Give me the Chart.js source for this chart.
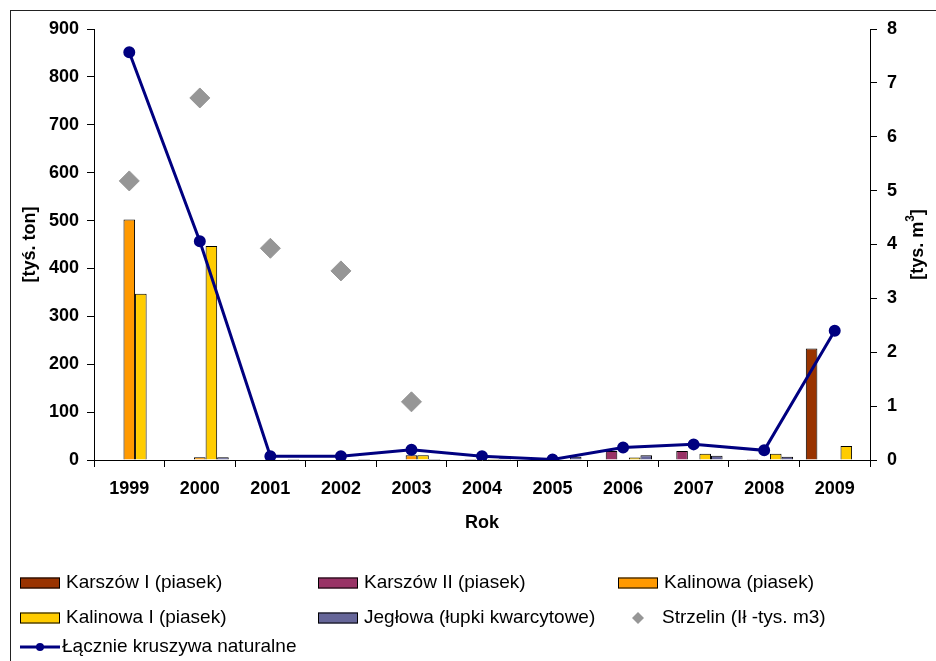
<!DOCTYPE html>
<html><head><meta charset="utf-8">
<script src="https://cdn.jsdelivr.net/npm/chart.js@4.4.0/dist/chart.umd.min.js"></script>
<style>html,body{margin:0;padding:0;background:#fff;}#wrap{width:936px;height:661px;position:relative;}</style>
</head><body><div id="wrap"><canvas id="c" width="936" height="661"></canvas></div>
<script>
const years = ['1999','2000','2001','2002','2003','2004','2005','2006','2007','2008','2009'];
const karszowI  = [0,0,0,0,0,0,0,0,0,0,233];
const karszowII = [0,0,0,0,0,2,0,19,19,2,1];
const kalinowa  = [502,6,1,1,10,0,0,0,0,0,0];
const kalinowaI = [347,447,1,0,10,2,0,5,13,13,29];
const jeglowa   = [0,6,2,2,2,8,7,10,9,7,1];
const strzelin  = [5.18,6.72,3.93,3.51,1.08,null,null,null,null,null,null];
const lacznie   = [7.57,4.06,0.07,0.07,0.19,0.07,0.01,0.23,0.29,0.18,2.40];
const leftTicks = [0,100,200,300,400,500,600,700,800,900];
const rightTicks = [0,1,2,3,4,5,6,7,8];

const FONT = "'Liberation Sans', Arial, sans-serif";

function bar(label, data, color){
  return {type:'bar', label, data, backgroundColor:color, borderColor:'#000', borderWidth:1,
    borderSkipped:'start', yAxisID:'y', order:3, categoryPercentage:0.82, barPercentage:1.0};
}

const frame = {
  id:'frame',
  beforeDraw(chart){
    const ctx = chart.ctx;
    ctx.save();
    ctx.fillStyle='#fff'; ctx.fillRect(0,0,chart.width,chart.height);
    ctx.strokeStyle='#222'; ctx.lineWidth=1;
    ctx.strokeRect(10.5,10.5,chart.width+20,chart.height+20);
    ctx.restore();
  },
  afterDraw(chart){
    const ctx = chart.ctx;
    const ds = chart.data.datasets;
    ctx.save();
    ctx.translate(918, (chart.chartArea.top+chart.chartArea.bottom)/2);
    ctx.rotate(-Math.PI/2);
    ctx.fillStyle='#000';
    ctx.textBaseline='middle';
    const a='[tys. m', b='3', c=']';
    ctx.font = "bold 18px "+FONT; const wa=ctx.measureText(a).width, wc=ctx.measureText(c).width;
    ctx.font = "bold 12px "+FONT; const wb=ctx.measureText(b).width;
    const tot=wa+wb+wc; let x=-tot/2;
    ctx.textAlign='left';
    ctx.font = "bold 18px "+FONT; ctx.fillText(a,x,0); x+=wa;
    ctx.font = "bold 12px "+FONT; ctx.fillText(b,x,-7); x+=wb;
    ctx.font = "bold 18px "+FONT; ctx.fillText(c,x,0);
    ctx.restore();

    ctx.save();
    ctx.font = "19px "+FONT;
    ctx.textBaseline='middle';
    ctx.textAlign='left';
    const cols=[20,318,618];
    const rows=[583,618,647];
    const items=[[0,0,0],[1,1,0],[2,2,0],[3,0,1],[4,1,1],[5,2,1],[6,0,2]];
    items.forEach(([i,ci,ri])=>{
      const d=ds[i]; const x0=cols[ci], y=rows[ri];
      if(d.type==='bar'){
        ctx.fillStyle=d.backgroundColor; ctx.fillRect(x0,y-5.5,40,11);
        ctx.strokeStyle='#000'; ctx.lineWidth=1; ctx.strokeRect(x0+0.5,y-5,39,10);
        ctx.fillStyle='#000'; ctx.fillText(d.label,x0+46,y);
      } else if(d.showLine===false){
        ctx.fillStyle=d.pointBackgroundColor;
        ctx.beginPath(); ctx.moveTo(x0+20,y-6); ctx.lineTo(x0+26,y); ctx.lineTo(x0+20,y+6); ctx.lineTo(x0+14,y); ctx.closePath(); ctx.fill();
        ctx.fillStyle='#000'; ctx.fillText(d.label,x0+44,y);
      } else {
        ctx.strokeStyle=d.borderColor; ctx.lineWidth=3;
        ctx.beginPath(); ctx.moveTo(x0,y); ctx.lineTo(x0+40,y); ctx.stroke();
        ctx.fillStyle=d.borderColor; ctx.beginPath(); ctx.arc(x0+20,y,4,0,Math.PI*2); ctx.fill();
        ctx.fillStyle='#000'; ctx.fillText(d.label,x0+42,y);
      }
    });
    ctx.restore();
  }
};

new Chart(document.getElementById('c'), {
  data:{
    labels: years,
    datasets:[
      bar('Karszów I (piasek)', karszowI, '#993300'),
      bar('Karszów II (piasek)', karszowII, '#993366'),
      bar('Kalinowa (piasek)', kalinowa, '#FF9900'),
      bar('Kalinowa I (piasek)', kalinowaI, '#FFCC00'),
      bar('Jegłowa (łupki kwarcytowe)', jeglowa, '#666699'),
      {type:'line', label:'Strzelin (Ił -tys. m3)', data:strzelin, yAxisID:'y1', showLine:false,
       pointStyle:'rectRot', pointRadius:10, pointHoverRadius:10, pointBackgroundColor:'#969696', pointBorderColor:'#969696',
       borderColor:'#969696', backgroundColor:'#969696', order:2},
      {type:'line', label:'Łącznie kruszywa naturalne', data:lacznie, yAxisID:'y1',
       borderColor:'#000080', backgroundColor:'#000080', borderWidth:3, pointRadius:4.5, pointHoverRadius:4.5,
       pointBackgroundColor:'#000080', pointBorderColor:'#000080', tension:0, order:1}
    ]
  },
  options:{
    responsive:false, animation:false, devicePixelRatio:1,
    layout:{padding:{top:29,left:10,right:0,bottom:121}},
    plugins:{legend:{display:false}, tooltip:{enabled:false}},
    scales:{
      x:{
        type:'category', offset:true,
        afterFit(s){ s.height=80; },
        grid:{display:true, drawOnChartArea:false, drawTicks:true, tickLength:7, color:'#000', offset:true},
        border:{display:true, color:'#000', width:1},
        ticks:{font:{family:FONT, size:18, weight:'bold'}, color:'#000', padding:11, maxRotation:0, autoSkip:false},
        title:{display:true, text:'Rok', font:{family:FONT, size:18, weight:'bold'}, color:'#000', padding:{top:0,bottom:6}}
      },
      y:{
        position:'left', min:0, max:900,
        afterFit(s){ s.width=84; },
        afterBuildTicks(s){ s.ticks = leftTicks.map(v=>({value:v})); },
        grid:{display:true, drawOnChartArea:false, drawTicks:true, tickLength:7, color:'#000'},
        border:{display:true, color:'#000', width:1},
        ticks:{font:{family:FONT, size:18, weight:'bold'}, color:'#000', padding:8},
        title:{display:true, text:'[tyś. ton]', font:{family:FONT, size:18, weight:'bold'}, color:'#000', padding:{top:9,bottom:0}}
      },
      y1:{
        position:'right', min:0, max:8,
        afterFit(s){ s.width=66; },
        afterBuildTicks(s){ s.ticks = rightTicks.map(v=>({value:v})); },
        grid:{display:true, drawOnChartArea:false, drawTicks:true, tickLength:7, color:'#000'},
        border:{display:true, color:'#000', width:1},
        ticks:{font:{family:FONT, size:18, weight:'bold'}, color:'#000', padding:10}
      }
    }
  },
  plugins:[frame]
});
</script></body></html>
